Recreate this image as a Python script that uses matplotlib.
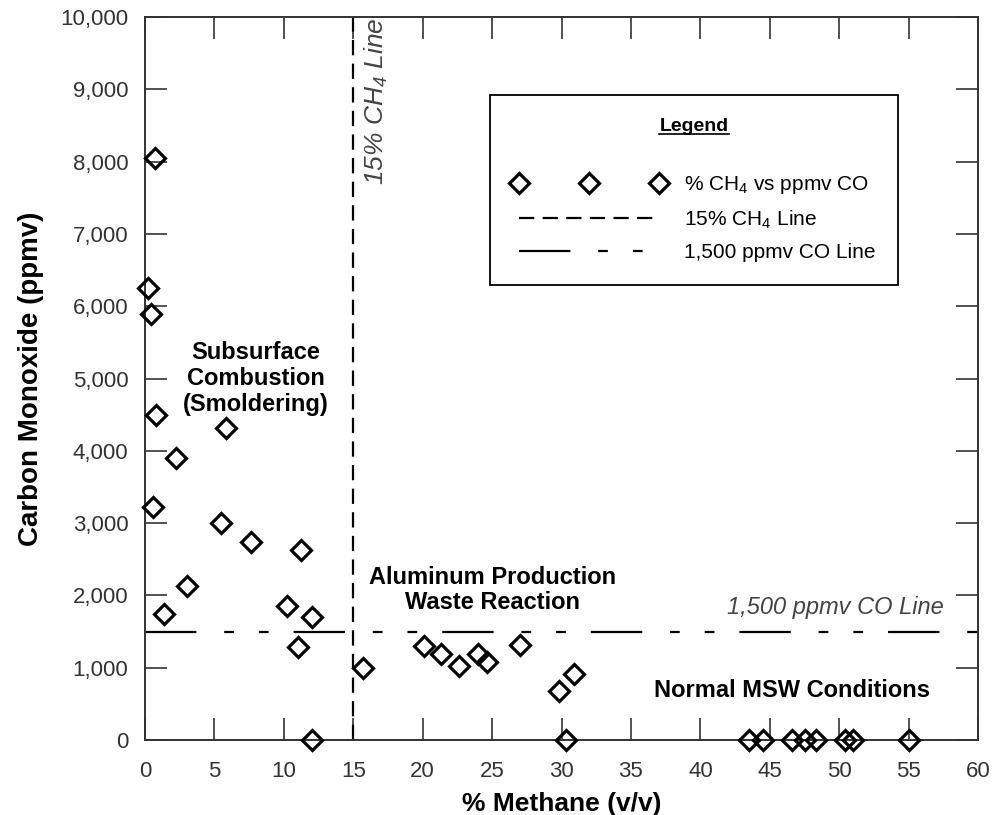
"""
Carbon monoxide vs methane scatter with 15% CH4 and 1,500 ppmv CO lines.
"""

import matplotlib
matplotlib.use("Agg")
import matplotlib.pyplot as plt
from matplotlib.ticker import FuncFormatter

plt.rcParams['font.family'] = ['Liberation Sans', 'DejaVu Sans']
plt.rcParams['mathtext.fontset'] = 'custom'
plt.rcParams['mathtext.rm'] = 'Liberation Sans'
plt.rcParams['mathtext.it'] = 'Liberation Sans:italic'
plt.rcParams['mathtext.bf'] = 'Liberation Sans:bold'
plt.rcParams['lines.scale_dashes'] = False

# measured values
methane = [0.7, 0.2, 0.4, 0.8, 2.2, 5.8, 0.6, 5.5, 7.6, 11.2, 3.0, 1.4,
           10.2, 12.0, 11.0, 12.0, 15.7, 20.1, 21.3, 22.6, 24.0, 24.6,
           27.0, 29.8, 30.9, 30.3,
           43.5, 44.5, 46.6, 47.5, 48.3, 50.4, 51.0, 55.0]
co = [8050, 6250, 5900, 4500, 3900, 4320, 3230, 3000, 2740, 2630, 2130, 1740,
      1860, 1700, 1290, 0, 1000, 1300, 1190, 1020, 1190, 1080,
      1310, 680, 920, 0,
      0, 0, 0, 0, 0, 0, 0, 0]

ch4_limit = 15
co_limit = 1500
x_ticks = list(range(0, 61, 5))
y_ticks = list(range(0, 10001, 1000))

fig = plt.figure(figsize=(9.96, 8.15), dpi=100)
ax = fig.add_axes([0.1456, 0.092, 0.8364, 0.887])

ax.plot(methane, co, linestyle='none', marker='D', markersize=10,
        markerfacecolor='none', markeredgecolor='black', markeredgewidth=2.3,
        label=r'% CH$_\mathregular{4}$ vs ppmv CO', clip_on=False, zorder=5)

ax.plot([ch4_limit, ch4_limit], [0, 10000], color='black', linewidth=1.6,
        dashes=(11, 6), label=r'15% CH$_\mathregular{4}$ Line')
ax.plot([0, 60], [co_limit, co_limit], color='black', linewidth=1.6,
        dashes=(37, 20, 7, 18, 7, 18), label='1,500 ppmv CO Line')

ax.set_xlim(0, 60)
ax.set_ylim(0, 10000)
ax.set_xticks(x_ticks)
ax.set_yticks(y_ticks)
ax.yaxis.set_major_formatter(FuncFormatter(lambda v, p: f'{int(v):,}'))
ax.tick_params(direction='in', length=16, width=1.2, color='#333333',
               labelsize=16, labelcolor='#333333', top=True, right=True)
ax.tick_params(axis='x', pad=15)
ax.tick_params(axis='y', pad=12)
for s in ax.spines.values():
    s.set_linewidth(1.4)
    s.set_color('#333333')

ax.set_xlabel('% Methane (v/v)', fontsize=19, fontweight='bold', labelpad=7)
ax.set_ylabel('Carbon Monoxide (ppmv)', fontsize=20, fontweight='bold', labelpad=12)

# region labels
ax.text(8.0, 5000, 'Subsurface\nCombustion\n(Smoldering)', fontsize=17,
        fontweight='bold', ha='center', va='center', linespacing=1.15)
ax.text(25.0, 2070, 'Aluminum Production\nWaste Reaction', fontsize=17,
        fontweight='bold', ha='center', va='center', linespacing=1.1)
ax.text(46.6, 690, 'Normal MSW Conditions', fontsize=17,
        fontweight='bold', ha='center', va='center')

ax.text(16.7, 9990, r'15% CH$_\mathregular{4}$ Line', rotation=90, fontsize=19,
        style='italic', color='#444444', ha='center', va='top')
ax.text(57.5, 1840, '1,500 ppmv CO Line', fontsize=17, style='italic',
        color='#444444', ha='right', va='center')

leg = ax.legend(loc='upper left', bbox_to_anchor=(0.414, 0.892), fontsize=15,
                borderaxespad=0, numpoints=3, handlelength=7.3,
                handletextpad=0.9, borderpad=1.1, labelspacing=0.6,
                fancybox=False, edgecolor='black', framealpha=1,
                title='Legend',
                title_fontproperties={'weight': 'bold', 'size': 14})
leg.get_frame().set_linewidth(1.3)
leg._legend_box.sep = 28

fig.canvas.draw()
bb = leg.get_title().get_window_extent().transformed(fig.transFigure.inverted())
fig.add_artist(plt.Line2D([bb.x0, bb.x1], [bb.y0 + 0.001, bb.y0 + 0.001],
                          transform=fig.transFigure, color='black', linewidth=1.2))

fig.savefig('out.png', dpi=100)
